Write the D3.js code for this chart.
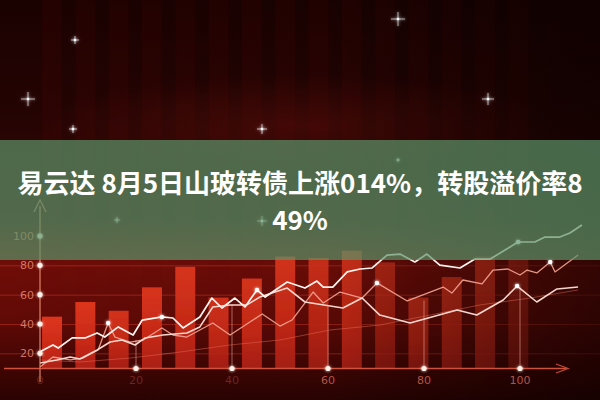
<!DOCTYPE html>
<html>
<head>
<meta charset="utf-8">
<script src="https://cdn.jsdelivr.net/npm/d3@7/dist/d3.min.js"></script>
<style>
  html, body { margin: 0; padding: 0; background: #1e0302; overflow: hidden; }
</style>
</head>
<body>
<div id="chart"></div>
<script>
const width = 600, height = 400;

// title on the green banner
const titleText = '易云达 8月5日山玻转债上涨014%，转股溢价率849%';

// axis ticks
const yTicks = [20, 40, 60, 80, 100];
const xTicks = [0, 20, 40, 60, 80, 100];
const guideTops = [null, 29, 53, 52, 56, 65]; // where the faint verticals stop

// bars
const barCats = ['b1', 'b2', 'b3', 'b4', 'b5', 'b6', 'b7', 'b8', 'b9', 'b10', 'b11', 'b12', 'b13', 'b14', 'b15'];
const barValues = [45, 55, 49, 65, 79, 58, 71, 86, 85, 90, 82, 58, 72, 86, 84];
const barGlow = [1, 1, 0.95, 1, 1, 0.95, 1, 1, 0.9, 0.95, 0.7, 0.8, 0.85, 0.85, 0.6];

// lines (x in axis units, y in axis units)
const line1X = [0, 2.7, 3.8, 6.7, 9.4, 11.9, 13.5, 16.3, 19.4, 21.3, 25.4, 27.7, 29.8, 33.3, 35.8, 37.9, 40.6, 42.7, 45.2, 46.9, 51.5, 55.2, 57.7, 59, 61, 64, 66.7, 69.2, 72.3, 75, 78.1, 80.6, 83.3, 87.5, 90.6, 93.8, 99.6, 103.1, 105.2, 108.3, 110.4, 112.9];
const line1Y = [21, 25.7, 23.6, 30.5, 30.5, 33.9, 31.1, 38, 32.5, 42.7, 44.8, 44.1, 37.3, 44.8, 57.7, 50.9, 57.7, 51.6, 63.2, 58.4, 68.6, 64.5, 69.3, 65.2, 65.2, 75.5, 77.5, 78.2, 87, 87.7, 82.3, 87.7, 80.2, 78.2, 84.3, 84.3, 95.9, 95.9, 99.3, 99.3, 102, 107.5];

const line2X = [0, 3.5, 6.3, 8.3, 11.9, 14.6, 17.1, 19.8, 21.9, 25.6, 30.6, 33.3, 36, 39.6, 43.1, 45.8, 51.5, 55.2, 63.1, 67.1, 70.8, 77.1, 86.9, 91, 96.5, 99.4, 103.5, 107.7, 112.1];
const line2Y = [13.4, 15.5, 17.5, 16.1, 22.3, 27.7, 29.1, 25.7, 30.5, 32.5, 33.9, 38, 51.6, 53, 53, 58.4, 64.5, 55, 50.9, 57.7, 46.1, 40.7, 49.5, 46.1, 56.4, 65.9, 55, 63.9, 65.2];

const line3X = [0, 2.7, 6.3, 9, 12.1, 14.2, 15.6, 18.8, 21.5, 25.4, 27.7, 30.6, 33.3, 36, 39.6, 46.3, 50, 52.5, 56.9, 59, 62.5, 67.1, 70.2, 76.5, 84, 85.8, 88.1, 92.1, 94.4, 97.5, 100, 101.5, 103.5, 106.3, 107.3, 112.1];
const line3Y = [10.7, 17.5, 15.5, 16.8, 22.3, 40.7, 31.1, 27.7, 29.1, 37.3, 32.5, 31.1, 35.9, 40.7, 32.5, 46.8, 38.6, 42.7, 61.8, 54.3, 61.8, 57.7, 68, 55.7, 65.2, 61.1, 70, 67.3, 76.8, 77.5, 73.4, 76.8, 74.8, 82.3, 75.5, 87];

const line4X = [0, 8.3, 18.8, 29.2, 39.6, 50, 60.4, 70.8, 81.3, 91.7, 102.1, 112.1];
const line4Y = [15.5, 14.1, 16.8, 20.9, 25.7, 29.1, 35.9, 39.3, 46.1, 53, 57.7, 63.2];

// small sparkles in the dark sky
const starX = [75, 398, 28, 488, 73, 262, 117, 262, 398];
const starY = [40, 19, 99, 99, 129, 129, 220, 221, 160];
const starSize = [4, 7, 7, 6, 4, 5, 3, 5, 2];

const svg = d3.select('#chart')
    .append('svg')
    .attr('width', width)
    .attr('height', height)
    .style('display', 'block');

const defs = svg.append('defs');

const bgGrad = defs.append('linearGradient')
    .attr('id', 'bg').attr('x1', 0).attr('y1', 0).attr('x2', 0).attr('y2', 1);
[[0, '#1a0201'], [0.3, '#250403'], [0.55, '#3a0604'], [0.66, '#700d08'], [0.8, '#600a06'], [0.92, '#400503'], [1, '#2a0302']]
    .forEach(d => bgGrad.append('stop').attr('offset', d[0]).attr('stop-color', d[1]));

// soft red glow low in the sky
const sky = defs.append('radialGradient')
    .attr('id', 'sky').attr('cx', 0.5).attr('cy', 0.5).attr('r', 0.5);
sky.append('stop').attr('offset', 0).attr('stop-color', '#7a140c').attr('stop-opacity', 0.35);
sky.append('stop').attr('offset', 1).attr('stop-color', '#7a140c').attr('stop-opacity', 0);

const shade = defs.append('linearGradient')
    .attr('id', 'shade').attr('x1', 0).attr('y1', 0).attr('x2', 1).attr('y2', 0);
shade.append('stop').attr('offset', 0).attr('stop-color', '#000').attr('stop-opacity', 0);
shade.append('stop').attr('offset', 0.55).attr('stop-color', '#000').attr('stop-opacity', 0.08);
shade.append('stop').attr('offset', 1).attr('stop-color', '#0a0000').attr('stop-opacity', 0.6);

const barGrad = defs.append('linearGradient')
    .attr('id', 'barfill').attr('x1', 0).attr('y1', 0).attr('x2', 0).attr('y2', 1);
barGrad.append('stop').attr('offset', 0).attr('stop-color', '#e0361e');
barGrad.append('stop').attr('offset', 0.6).attr('stop-color', '#cc2a17');
barGrad.append('stop').attr('offset', 1).attr('stop-color', '#b02012');

const glow = defs.append('filter').attr('id', 'glow')
    .attr('x', '-50%').attr('y', '-50%').attr('width', '200%').attr('height', '200%');
glow.append('feGaussianBlur').attr('stdDeviation', 1.6).attr('result', 'b');
const merge = glow.append('feMerge');
merge.append('feMergeNode').attr('in', 'b');
merge.append('feMergeNode').attr('in', 'SourceGraphic');

const soft = defs.append('filter').attr('id', 'soft');
soft.append('feGaussianBlur').attr('stdDeviation', 0.5);

// scales
const x = d3.scaleLinear().domain([0, 100]).range([40, 520]);
const y = d3.scaleLinear().domain([10, 100]).range([368, 236]);
const xb = d3.scaleBand().domain(barCats).range([35.4, 535]).paddingInner(0.4).paddingOuter(0.2);

// background
svg.append('rect').attr('width', width).attr('height', height).attr('fill', 'url(#bg)');
svg.append('ellipse').attr('cx', 300).attr('cy', 125).attr('rx', 260).attr('ry', 50).attr('fill', 'url(#sky)');

// faint vertical streaks
svg.append('g').selectAll('rect')
    .data(barCats)
    .join('rect')
    .attr('x', d => xb(d))
    .attr('y', 0)
    .attr('width', xb.bandwidth())
    .attr('height', 368)
    .attr('fill', '#6a0c08')
    .attr('opacity', 0.12);

// horizontal grid lines
svg.append('g').selectAll('line')
    .data(yTicks.slice(0, 4))
    .join('line')
    .attr('x1', 0).attr('x2', width)
    .attr('y1', d => y(d) + 0.5).attr('y2', d => y(d) + 0.5)
    .attr('stroke', '#d8402c')
    .attr('stroke-opacity', 0.45)
    .attr('stroke-width', 1);

// bars
svg.append('g').selectAll('rect')
    .data(barValues)
    .join('rect')
    .attr('x', (d, i) => xb(barCats[i]))
    .attr('y', d => y(d))
    .attr('width', xb.bandwidth())
    .attr('height', d => y(10) - y(d))
    .attr('fill', 'url(#barfill)')
    .attr('opacity', (d, i) => barGlow[i])
    .attr('filter', 'url(#soft)');

// darken to the right
svg.append('rect').attr('width', width).attr('height', height).attr('fill', 'url(#shade)');

// faint guides from x-axis dots
svg.append('g').selectAll('line')
    .data(xTicks.filter((d, i) => guideTops[i] !== null))
    .join('line')
    .attr('x1', d => x(d)).attr('x2', d => x(d))
    .attr('y1', y(10))
    .attr('y2', (d, i) => y(guideTops[i + 1]))
    .attr('stroke', '#f4b0a0')
    .attr('stroke-opacity', 0.55)
    .attr('stroke-width', 1);

// lines
const lineGen = d3.line().x(d => x(d[0])).y(d => y(d[1]));
const series = [
    {xs: line4X, ys: line4Y, color: '#e8705c', w: 1, op: 0.45},
    {xs: line3X, ys: line3Y, color: '#f5a595', w: 1.3, op: 0.9},
    {xs: line2X, ys: line2Y, color: '#ffe0d8', w: 1.6, op: 0.95},
    {xs: line1X, ys: line1Y, color: '#fff4f0', w: 1.7, op: 1}
];
svg.append('g').selectAll('path')
    .data(series)
    .join('path')
    .attr('d', s => lineGen(d3.zip(s.xs, s.ys)))
    .attr('fill', 'none')
    .attr('stroke', s => s.color)
    .attr('stroke-width', s => s.w)
    .attr('stroke-opacity', s => s.op)
    .attr('stroke-linejoin', 'round');

// highlight dots on the lines
const dotPoints = [
    [line1X[10], line1Y[10]], [line1X[18], line1Y[18]], [line1X[36], line1Y[36]],
    [line2X[25], line2Y[25]], [line3X[22], line3Y[22]], [line3X[33], line3Y[33]],
    [line3X[5], line3Y[5]]
];
svg.append('g').selectAll('circle')
    .data(dotPoints)
    .join('circle')
    .attr('cx', d => x(d[0]))
    .attr('cy', d => y(d[1]))
    .attr('r', 2.2)
    .attr('fill', '#fff')
    .attr('filter', 'url(#glow)');

// y axis
const yAxisG = svg.append('g');
yAxisG.append('line')
    .attr('x1', 40).attr('x2', 40)
    .attr('y1', 382).attr('y2', 206)
    .attr('stroke', '#f09878').attr('stroke-width', 1.3).attr('stroke-opacity', 0.8);
yAxisG.append('path')
    .attr('d', 'M34,212 L40,200 L46,212')
    .attr('fill', 'none')
    .attr('stroke', '#f0a080').attr('stroke-width', 1.3).attr('stroke-opacity', 0.7);
yAxisG.selectAll('circle')
    .data(yTicks)
    .join('circle')
    .attr('cx', 40).attr('cy', d => y(d))
    .attr('r', 2.6)
    .attr('fill', '#fff0e8')
    .attr('filter', 'url(#glow)');
yAxisG.selectAll('text')
    .data(yTicks)
    .join('text')
    .attr('x', 34).attr('y', d => y(d) + 4)
    .attr('text-anchor', 'end')
    .attr('font-family', 'DejaVu Sans, sans-serif')
    .attr('font-size', 11)
    .attr('fill', '#e88a78')
    .attr('fill-opacity', 0.85)
    .text(d => d);

// x axis
const xAxisG = svg.append('g');
xAxisG.append('line')
    .attr('x1', 4).attr('x2', 566)
    .attr('y1', 368.5).attr('y2', 368.5)
    .attr('stroke', '#e8604a').attr('stroke-width', 1.4).attr('stroke-opacity', 0.85);
xAxisG.append('path')
    .attr('d', 'M556,364 L568,368.5 L556,373')
    .attr('fill', 'none')
    .attr('stroke', '#c84a38').attr('stroke-width', 1.3);
xAxisG.selectAll('circle')
    .data(xTicks.slice(1))
    .join('circle')
    .attr('cx', d => x(d)).attr('cy', 368.5)
    .attr('r', 2.6)
    .attr('fill', '#fff0e8')
    .attr('filter', 'url(#glow)');
xAxisG.selectAll('text')
    .data(xTicks)
    .join('text')
    .attr('x', d => x(d)).attr('y', 384)
    .attr('text-anchor', 'middle')
    .attr('font-family', 'DejaVu Sans, sans-serif')
    .attr('font-size', 11)
    .attr('fill', '#d86a58')
    .attr('fill-opacity', (d, i) => i < 3 ? 0.35 : 0.8)
    .text(d => d);

// sparkles
const stars = svg.append('g').attr('filter', 'url(#glow)');
starX.forEach((sx, i) => {
    const s = starSize[i];
    stars.append('path')
        .attr('d', `M${sx - s},${starY[i]} L${sx + s},${starY[i]} M${sx},${starY[i] - s} L${sx},${starY[i] + s}`)
        .attr('stroke', '#fff')
        .attr('stroke-width', 0.8)
        .attr('stroke-opacity', 0.8);
    stars.append('circle')
        .attr('cx', sx).attr('cy', starY[i])
        .attr('r', s > 3 ? 1.3 : 0.8)
        .attr('fill', '#fff');
});

// green banner
svg.append('rect')
    .attr('x', 0).attr('y', 140)
    .attr('width', width).attr('height', 120)
    .attr('fill', 'rgb(92,148,106)')
    .attr('fill-opacity', 0.7);

// title, wrapped to the banner width
const title = svg.append('text')
    .attr('text-anchor', 'middle')
    .attr('font-family', '"Noto Sans CJK SC", sans-serif')
    .attr('font-weight', 'bold')
    .attr('font-size', 26)
    .attr('fill', '#ffffff');

const maxW = 575;
let lines = [], cur = '';
const probe = title.append('tspan');
for (const ch of titleText) {
    probe.text(cur + ch);
    if (probe.node().getComputedTextLength() > maxW && cur) {
        lines.push(cur);
        cur = ch;
    } else {
        cur += ch;
    }
}
lines.push(cur);
probe.remove();

title.selectAll('tspan')
    .data(lines)
    .join('tspan')
    .attr('x', 300)
    .attr('y', (d, i) => 193 + i * 37)
    .text(d => d);
</script>
</body>
</html>
